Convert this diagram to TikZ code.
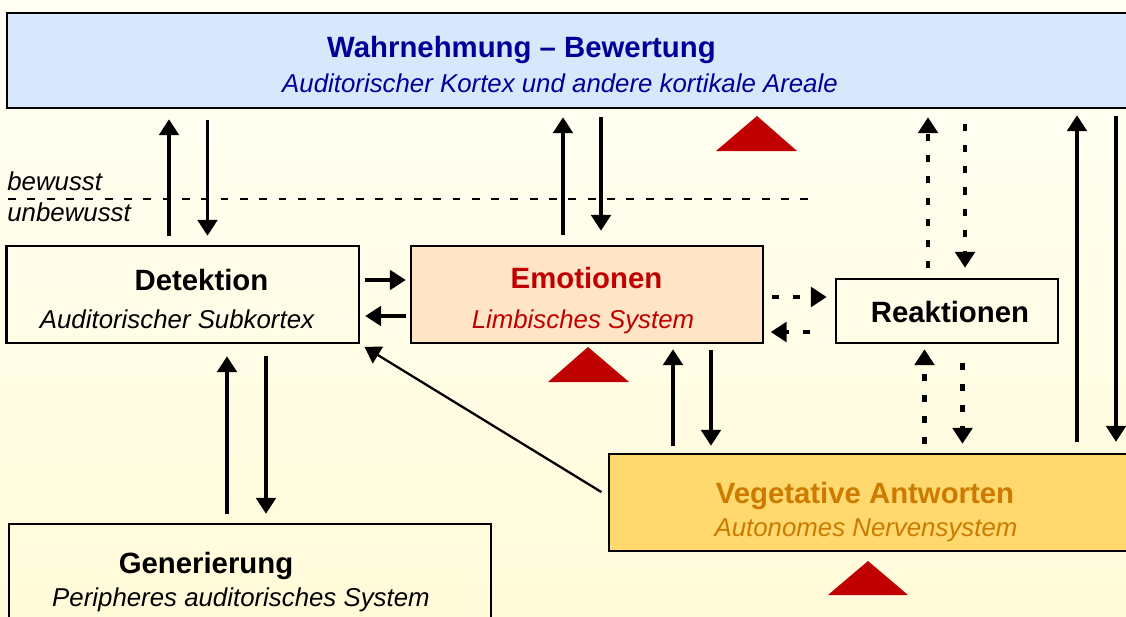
\documentclass[tikz,border=0pt]{standalone}
\usepackage{fontspec}
\setmainfont{Liberation Sans}
\usetikzlibrary{arrows.meta}
\definecolor{bgtop}{HTML}{FFFFF6}
\definecolor{bgbot}{HTML}{FFFBD9}
\definecolor{wahrfill}{HTML}{D8E8FC}
\definecolor{emofill}{HTML}{FFE4C6}
\definecolor{vegfill}{HTML}{FFD96E}
\definecolor{wahrtext}{HTML}{000099}
\definecolor{emotext}{HTML}{C00000}
\definecolor{vegtext}{HTML}{CC7A00}
\definecolor{warnred}{HTML}{C00000}
\begin{document}
\begin{tikzpicture}[x=0.02cm,y=-0.02cm]
	\tikzstyle{box}=[draw,line width=1.4pt,inner sep=0pt];
	\tikzstyle{ttl}=[anchor=base,font=\fontsize{16.7}{20}\selectfont\bfseries];
	\tikzstyle{sub}=[anchor=base,font=\fontsize{14.7}{18}\selectfont\itshape];
	\tikzstyle{lbl}=[anchor=base west,inner sep=0pt,font=\fontsize{14.7}{18}\selectfont\itshape];
	\tikzstyle{arr}=[-{Triangle[length=9pt,width=11pt]},line width=2.1pt,shorten <=0.2cm,shorten >=0.2cm];
	\tikzstyle{dotarr}=[arr,line width=2.4pt,dash pattern=on 4pt off 8pt];

	\useasboundingbox (0,0) rectangle (1126,616);
	\clip (0,0) rectangle (1126,616);
	\shade[top color=bgtop,bottom color=bgbot] (0,0) rectangle (1126,616);

	\node at (578.5, 60.5) (wahr) [box,fill=wahrfill,minimum width=22.86cm,minimum height=1.9cm] {};
	\node at (182.75, 294.5) (det) [box,minimum width=7.05cm,minimum height=1.94cm] {};
	\node at (587, 294.5) (emo) [box,fill=emofill,minimum width=7.04cm,minimum height=1.94cm] {};
	\node at (947, 311) (reak) [box,minimum width=4.44cm,minimum height=1.28cm] {};
	\node at (879.5, 502.5) (veg) [box,fill=vegfill,minimum width=10.82cm,minimum height=1.94cm] {};
	\node at (250, 582) (gen) [box,minimum width=9.64cm,minimum height=2.32cm] {};

	\node at (521.5, 57.5) (wahrT) [ttl,text=wahrtext] {Wahrnehmung -- Bewertung};
	\node at (560, 92) (wahrS) [sub,text=wahrtext] {Auditorischer Kortex und andere kortikale Areale};
	\node at (201.5, 290) (detT) [ttl] {Detektion};
	\node at (177, 328) (detS) [sub] {Auditorischer Subkortex};
	\node at (586.5, 288) (emoT) [ttl,text=emotext] {Emotionen};
	\node at (583, 328) (emoS) [sub,text=emotext] {Limbisches System};
	\node at (950, 322) (reakT) [ttl] {Reaktionen};
	\node at (865, 503) (vegT) [ttl,text=vegtext] {Vegetative Antworten};
	\node at (866, 536) (vegS) [sub,text=vegtext] {Autonomes Nervensystem};
	\node at (206, 573) (genT) [ttl] {Generierung};
	\node at (241, 606) (genS) [sub] {Peripheres auditorisches System};

	\coordinate (bl) at (8, 199);
	\coordinate (br) at (810, 199);
	\draw[line width=1.2pt,dash pattern=on 4.5pt off 6.5pt] (bl) to (br);
	\node at (7, 190) (bew) [lbl] {bewusst};
	\node at (7, 221) (unbew) [lbl] {unbewusst};

	\draw[arr,shorten <=0.18cm] (det.north -| 169,0) to (wahr.south -| 169,0);
	\draw[arr,shorten <=0.22cm,shorten >=0.18cm] (wahr.south -| 207.5,0) to (det.north -| 207.5,0);
	\draw[arr,shorten >=0.16cm] (emo.north -| 563,0) to (wahr.south -| 563,0);
	\draw[arr,shorten <=0.16cm,shorten >=0.28cm] (wahr.south -| 601,0) to (emo.north -| 601,0);
	\draw[dotarr,shorten >=0.16cm] (reak.north -| 928,0) to (wahr.south -| 928,0);
	\draw[dotarr,shorten <=0.3cm] (wahr.south -| 965,0) to (reak.north -| 965,0);
	\draw[arr,shorten <=0.22cm,shorten >=0.12cm] (veg.north -| 1077,0) to (wahr.south -| 1077,0);
	\draw[arr,shorten <=0.14cm,shorten >=0.22cm] (wahr.south -| 1116,0) to (veg.north -| 1116,0);

	\draw[arr,shorten <=0.1cm,shorten >=0.08cm] (det.east |- 0,280) to (emo.west |- 0,280);
	\draw[arr,shorten <=0.08cm,shorten >=0.1cm] (emo.west |- 0,316) to (det.east |- 0,316);
	\draw[dotarr,shorten <=0.15cm,shorten >=0.16cm] (emo.east |- 0,297) to (reak.west |- 0,297);
	\draw[dotarr,shorten <=0.49cm,shorten >=0.13cm] (reak.west |- 0,332) to (emo.east |- 0,332);

	\draw[dotarr,shorten <=0.18cm,shorten >=0.1cm] (veg.north -| 924.5,0) to (reak.south -| 924.5,0);
	\draw[dotarr,shorten <=0.38cm,shorten >=0.18cm] (reak.south -| 962.5,0) to (veg.north -| 962.5,0);
	\draw[arr,shorten <=0.14cm,shorten >=0.1cm] (veg.north -| 673,0) to (emo.south -| 673,0);
	\draw[arr,shorten <=0.12cm,shorten >=0.14cm] (emo.south -| 711,0) to (veg.north -| 711,0);
	\draw[arr,shorten <=0.18cm,shorten >=0.24cm] (gen.north -| 227,0) to (det.south -| 227,0);
	\draw[arr,shorten <=0.24cm,shorten >=0.18cm] (det.south -| 266,0) to (gen.north -| 266,0);
	\draw[arr,line width=1.3pt,shorten <=0.15cm,shorten >=0.1cm] ([yshift=0.13cm]veg.west) to (det.south east);

	\fill[warnred] (716, 151) -- (757, 116) -- (797, 151) -- cycle;
	\fill[warnred] (548, 382) -- (588, 347) -- (629, 382) -- cycle;
	\fill[warnred] (828, 595) -- (868, 561) -- (908, 595) -- cycle;
\end{tikzpicture}
\end{document}
